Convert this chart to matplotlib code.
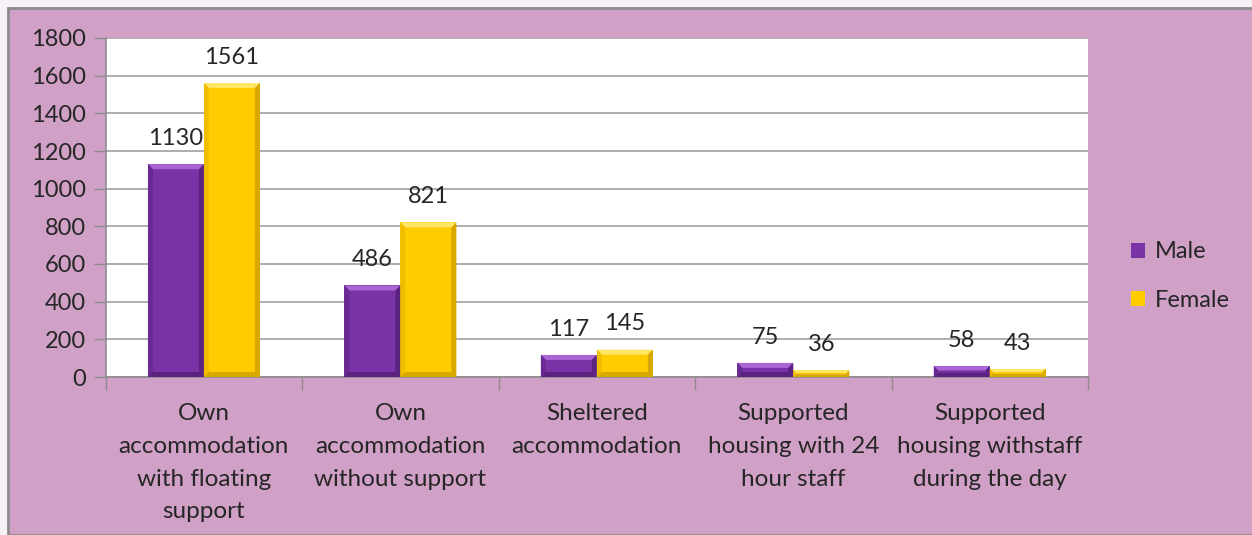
import matplotlib
matplotlib.use("Agg")
import matplotlib.pyplot as plt
from matplotlib.patches import Rectangle, Polygon
import numpy as np

categories = ["Own\naccommodation\nwith floating\nsupport",
              "Own\naccommodation\nwithout support",
              "Sheltered\naccommodation",
              "Supported\nhousing with 24\nhour staff",
              "Supported\nhousing withstaff\nduring the day"]
male = [1130, 486, 117, 75, 58]
female = [1561, 821, 145, 36, 43]
series_names = ["Male", "Female"]
yticks = [0, 200, 400, 600, 800, 1000, 1200, 1400, 1600, 1800]

plt.rcParams['font.family'] = ['Lato', 'DejaVu Sans']
TXT = '#262626'
PINK = '#d0a0c6'
PURPLE = '#7a33a6'
YELLOW = '#ffcc00'

W, H = 1252, 535
fig = plt.figure(figsize=(W/100, H/100), dpi=100)
fig.patch.set_facecolor('#f6f1f6')
fig.patches.append(Rectangle((8/W, 0), 1 - 8/W + 0.01, (H-8)/H, transform=fig.transFigure,
                             facecolor=PINK, edgecolor='#8c8c8c', linewidth=2, zorder=-10))

ax = fig.add_axes([105.7/W, (H-377)/H, (1088-105.7)/W, (377-38)/H])
ax.set_zorder(1)
ax.set_facecolor('white')
x = np.arange(len(categories))
bw = 0.285
bars_m = ax.bar(x - bw/2, male, bw, color=PURPLE, zorder=3, label=series_names[0])
bars_f = ax.bar(x + bw/2, female, bw, color=YELLOW, zorder=3, label=series_names[1])
ax.set_xlim(-0.5, len(categories) - 0.5)
ax.set_ylim(0, 1800)
ax.set_yticks(yticks)
ax.set_yticklabels([str(v) for v in yticks], fontsize=17, color=TXT)
ax.set_xticks(x)
ax.set_xticklabels(categories, fontsize=17.5, color=TXT, linespacing=1.68, va='top')
ax.set_xticks(np.arange(len(categories) + 1) - 0.5, minor=True)
ax.tick_params(axis='x', which='major', length=0, pad=19)
ax.tick_params(axis='x', which='minor', length=9, color='#8c8c8c', width=1)
ax.tick_params(axis='y', length=9, color='#8c8c8c', width=1, pad=5)
ax.yaxis.grid(True, color='#a0a0a0', linewidth=1.2, zorder=0)
ax.set_axisbelow(True)
for s in ['top', 'right']:
    ax.spines[s].set_visible(False)
for s in ['left', 'bottom']:
    ax.spines[s].set_color('#8c8c8c')
    ax.spines[s].set_linewidth(1.2)

fig.canvas.draw()

def bevel(bars, light, dark, darker):
    inv = ax.transData.inverted()
    for b in bars:
        x0, y0 = b.get_x(), b.get_y()
        x1, y1 = x0 + b.get_width(), y0 + b.get_height()
        (px0, py0) = ax.transData.transform((x0, y0))
        (px1, py1) = ax.transData.transform((x1, y1))
        e = min(5, (py1 - py0) / 2.5)
        pts = {
            'top': [(px0, py1), (px1, py1), (px1 - e, py1 - e), (px0 + e, py1 - e)],
            'left': [(px0, py0), (px0, py1), (px0 + e, py1 - e), (px0 + e, py0 + e)],
            'right': [(px1, py0), (px1, py1), (px1 - e, py1 - e), (px1 - e, py0 + e)],
            'bot': [(px0, py0), (px1, py0), (px1 - e, py0 + e), (px0 + e, py0 + e)],
        }
        cols = {'top': light, 'left': dark, 'right': darker, 'bot': darker}
        for k, p in pts.items():
            dp = inv.transform(np.array(p))
            ax.add_patch(Polygon(dp, closed=True, facecolor=cols[k], edgecolor='none', zorder=4))

bevel(bars_m, '#a865d3', '#6a2a93', '#5a2380')
bevel(bars_f, '#ffe766', '#f0bd00', '#d9a800')

for bars, vals in ((bars_m, male), (bars_f, female)):
    for b, v in zip(bars, vals):
        ax.annotate(str(v), (b.get_x() + b.get_width()/2, v), xytext=(0, 11),
                    textcoords='offset points', ha='center', va='bottom',
                    fontsize=17, color=TXT, zorder=5)

leg = ax.legend(loc='center left', bbox_to_anchor=(1110/W, (H-276)/H),
                bbox_transform=fig.transFigure, frameon=False, fontsize=17,
                handlelength=0.6, handleheight=0.6, handletextpad=0.4, labelspacing=1.15)
for t in leg.get_texts():
    t.set_color(TXT)

fig.savefig('out.png', dpi=100, facecolor=fig.get_facecolor())
